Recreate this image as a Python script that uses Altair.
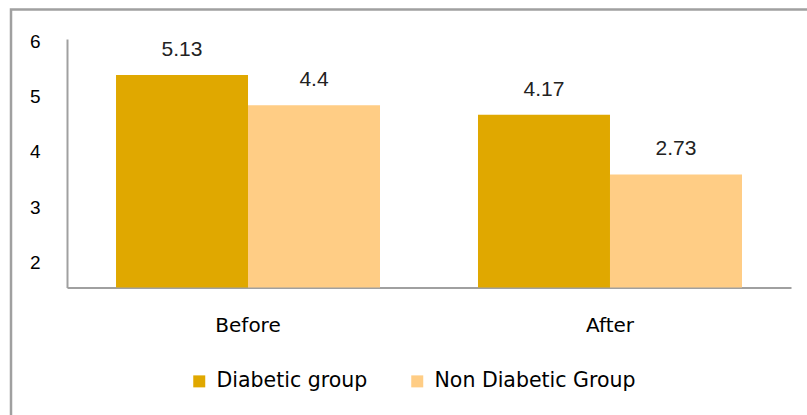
import altair as alt
import pandas as pd

# Chart values
periods = ["Before", "After"]
groups = ["Diabetic group", "Non Diabetic Group"]
diabetic = [5.13, 4.17]
non_diabetic = [4.4, 2.73]
axis_ticks = [2, 3, 4, 5, 6]
colors = ["#E0A800", "#FFCD85"]

rows = []
for i, p in enumerate(periods):
    rows.append({"period": p, "group": groups[0], "value": diabetic[i], "label": str(diabetic[i])})
    rows.append({"period": p, "group": groups[1], "value": non_diabetic[i], "label": str(non_diabetic[i])})
df = pd.DataFrame(rows)

GRID = "#a0a0a0"

x = alt.X(
    "period:N",
    sort=periods,
    title=None,
    scale=alt.Scale(paddingInner=0.2707, paddingOuter=0.1354),
    axis=alt.Axis(
        labelAngle=0,
        ticks=False,
        domainColor=GRID,
        domainWidth=2,
        labelFont="DejaVu Sans",
        labelFontSize=20,
        labelColor="#000000",
        labelPadding=28,
    ),
)
xo = alt.XOffset("group:N", sort=groups, scale=alt.Scale(paddingInner=0, paddingOuter=0))
y = alt.Y("value:Q", scale=alt.Scale(domain=[0, 6], nice=False, zero=True), axis=None)

bars = alt.Chart(df).mark_bar().encode(
    x=x,
    xOffset=xo,
    y=y,
    color=alt.Color(
        "group:N",
        sort=groups,
        scale=alt.Scale(domain=groups, range=colors),
        legend=alt.Legend(
            orient="none",
            legendX=122,
            legendY=332,
            direction="horizontal",
            title=None,
            symbolType="square",
            symbolSize=144,
            symbolStrokeWidth=0,
            labelFont="DejaVu Sans",
            labelFontSize=20.5,
            labelColor="#000000",
            labelOffset=7,
            labelLimit=400,
            columnPadding=39,
        ),
    ),
)

labels = alt.Chart(df).mark_text(
    baseline="bottom", dy=-15, font="Liberation Sans", fontSize=21, color="#222222"
).encode(x=x, xOffset=xo, y=y, text="label:N")

# Value axis shown at the left edge of the plot
axis_layer = alt.Chart(pd.DataFrame({"tick": axis_ticks})).mark_point(opacity=0).encode(
    x=alt.value(0),
    y=alt.Y(
        "tick:Q",
        scale=alt.Scale(domain=[1.546, 6.043], nice=False, zero=False),
        axis=alt.Axis(
            orient="left",
            values=axis_ticks,
            ticks=False,
            grid=False,
            domainColor=GRID,
            domainWidth=2,
            labelFont="Liberation Sans",
            labelFontSize=19,
            labelColor="#000000",
            labelPadding=27,
            format="d",
            title=None,
        ),
    ),
)

# Outer frame of the chart
frame = alt.Chart(pd.DataFrame({"k": [0]})).mark_rect(
    fill="transparent", stroke=GRID, strokeWidth=2.5
).encode(
    x=alt.value(-56), x2=alt.value(900), y=alt.value(-29.5), y2=alt.value(500)
)

chart = (
    alt.layer(frame, alt.layer(bars, labels), axis_layer)
    .resolve_scale(y="independent")
    .properties(
        width=724,
        height=248.5,
        autosize=alt.AutoSizeParams(type="none"),
        padding={"left": 67, "top": 39, "right": 16, "bottom": 127.5},
        background="white",
    )
    .configure_view(strokeWidth=0)
)

chart.save("out.html", embed_options={"renderer": "svg", "actions": False})
